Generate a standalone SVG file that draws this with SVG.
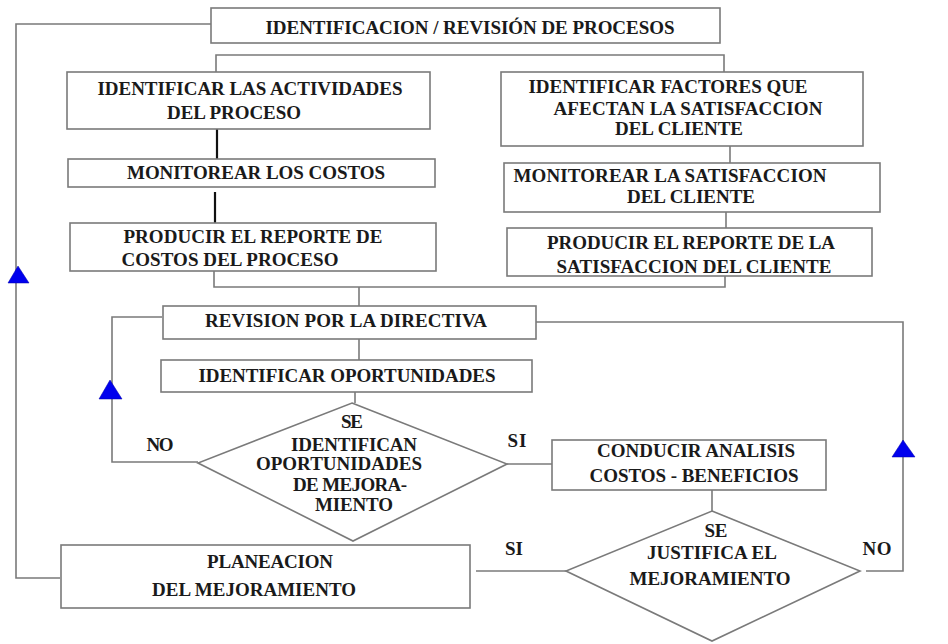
<svg xmlns="http://www.w3.org/2000/svg" width="948" height="644" viewBox="0 0 948 644">
<style>
.box{fill:#fff;stroke:#7a7a7a;stroke-width:1.6}
.ln{fill:none;stroke:#7a7a7a;stroke-width:1.6}
.thk{fill:none;stroke:#111;stroke-width:2.2}
.tri{fill:#0000ee;stroke:#0000aa;stroke-width:0.5}
text{font-family:"Liberation Serif","Times New Roman",serif;font-weight:bold;font-size:19px;fill:#1a1a1a;text-anchor:middle}
</style>
<rect width="948" height="644" fill="#fff"/>
<g id="connectors">
<polyline class="ln" points="211,24 16,24 16,578 60,578"/>
<polygon class="tri" points="18,266 8,283 29,283"/>
<polyline class="ln" points="216,72 216,55 724,55 724,72"/>
<line class="thk" x1="217" y1="129" x2="217" y2="159"/>
<line class="thk" x1="215" y1="192" x2="215" y2="223"/>
<line class="ln" x1="730" y1="146" x2="730" y2="163"/>
<line class="ln" x1="726" y1="212" x2="726" y2="228"/>
<polyline class="ln" points="214,271 214,287 725,287 725,276"/>
<line class="ln" x1="359" y1="287" x2="359" y2="306"/>
<polyline class="ln" points="162,317 112,317 112,462 198,462"/>
<polygon class="tri" points="110,380 99,399 122,399"/>
<polyline class="ln" points="536,322 903,322 903,571 866,571"/>
<polygon class="tri" points="903,440 892,457 915,457"/>
<line class="ln" x1="359" y1="339" x2="359" y2="360"/>
<line class="ln" x1="355" y1="392" x2="355" y2="403"/>
<line class="ln" x1="507" y1="464" x2="552" y2="464"/>
<line class="ln" x1="712" y1="490" x2="712" y2="511"/>
<line class="ln" x1="566" y1="571" x2="476" y2="571"/>
</g>
<g id="n_top">
<rect class="box" x="211" y="8" width="509" height="35"/>
<text x="470" y="34" textLength="409">IDENTIFICACION / REVISIÓN DE PROCESOS</text>
</g>
<g id="n_actividades">
<rect class="box" x="67" y="72" width="363" height="57"/>
<text x="250" y="95" textLength="305">IDENTIFICAR LAS ACTIVIDADES</text>
<text x="234" y="119" textLength="134">DEL PROCESO</text>
</g>
<g id="n_monitorear_costos">
<rect class="box" x="68" y="159" width="367" height="28"/>
<text x="256" y="179" textLength="258">MONITOREAR LOS COSTOS</text>
</g>
<g id="n_reporte_costos">
<rect class="box" x="70" y="223" width="366" height="48"/>
<text x="253" y="243" textLength="259">PRODUCIR EL REPORTE DE</text>
<text x="230" y="266" textLength="217">COSTOS DEL PROCESO</text>
</g>
<g id="n_factores">
<rect class="box" x="501" y="72" width="362" height="74"/>
<text x="668" y="93" textLength="279">IDENTIFICAR FACTORES QUE</text>
<text x="688" y="115" textLength="269">AFECTAN LA SATISFACCION</text>
<text x="679" y="135" textLength="128">DEL CLIENTE</text>
</g>
<g id="n_monitorear_satisfaccion">
<rect class="box" x="504" y="163" width="376" height="49"/>
<text x="670" y="182" textLength="313">MONITOREAR LA SATISFACCION</text>
<text x="691" y="203" textLength="128">DEL CLIENTE</text>
</g>
<g id="n_reporte_satisfaccion">
<rect class="box" x="507" y="228" width="365" height="48"/>
<text x="691" y="249" textLength="288">PRODUCIR EL REPORTE DE LA</text>
<text x="694" y="273" textLength="275">SATISFACCION DEL CLIENTE</text>
</g>
<g id="n_revision">
<rect class="box" x="163" y="306" width="373" height="33"/>
<text x="346" y="327" textLength="282">REVISION POR LA DIRECTIVA</text>
</g>
<g id="n_oportunidades">
<rect class="box" x="161" y="360" width="371" height="32"/>
<text x="347" y="382" textLength="297">IDENTIFICAR OPORTUNIDADES</text>
</g>
<g id="n_decision1">
<polygon class="box" points="352,403 507,464 353,541 198,463"/>
<text x="352" y="428" textLength="22">SE</text>
<text x="354" y="451" textLength="126">IDENTIFICAN</text>
<text x="339" y="470" textLength="166">OPORTUNIDADES</text>
<text x="350" y="491" textLength="114">DE MEJORA-</text>
<text x="354" y="511" textLength="78">MIENTO</text>
</g>
<g id="n_conducir">
<rect class="box" x="552" y="440" width="274" height="50"/>
<text x="696" y="457" textLength="198">CONDUCIR ANALISIS</text>
<text x="694" y="482" textLength="209">COSTOS - BENEFICIOS</text>
</g>
<g id="n_decision2">
<polygon class="box" points="712,511 860,571 712,641 566,571"/>
<text x="716" y="537" textLength="23">SE</text>
<text x="712" y="559" textLength="130">JUSTIFICA EL</text>
<text x="710" y="585" textLength="161">MEJORAMIENTO</text>
</g>
<g id="n_planeacion">
<rect class="box" x="61" y="545" width="409" height="63"/>
<text x="270" y="568" textLength="126">PLANEACION</text>
<text x="254" y="596" textLength="204">DEL MEJORAMIENTO</text>
</g>
<g id="labels">
<text x="160" y="451" textLength="27">NO</text>
<text x="517" y="447" textLength="19">SI</text>
<text x="514" y="555" textLength="18">SI</text>
<text x="877" y="555" textLength="29">NO</text>
</g>
</svg>
